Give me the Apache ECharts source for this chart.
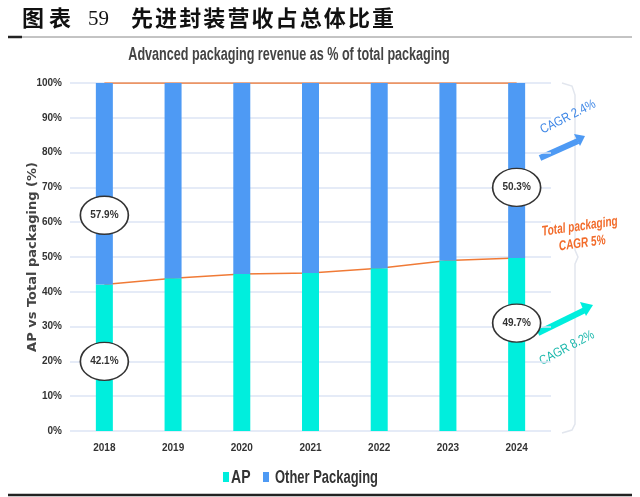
<!DOCTYPE html>
<html><head><meta charset="utf-8">
<script src="https://cdn.jsdelivr.net/npm/echarts@6/dist/echarts.min.js"></script>
<style>html,body{margin:0;padding:0;background:#fff}#c{width:640px;height:497px}</style>
</head><body><div id="c"></div>
<script>
const categories = ['2018','2019','2020','2021','2022','2023','2024'];
const apShare = [42.1, 43.9, 45.1, 45.4, 46.8, 49.0, 49.7];
const otherShare = [57.9, 56.1, 54.9, 54.6, 53.2, 51.0, 50.3];
const totalLine = [100, 100, 100, 100, 100, 100, 100];
const yTicks = [0, 10, 20, 30, 40, 50, 60, 70, 80, 90, 100];
const calloutOther = [['2018', 62, '57.9%'], ['2024', 70, '50.3%']];
const calloutAP = [['2018', 20, '42.1%'], ['2024', 31, '49.7%']];
const seriesNames = ['AP', 'Other Packaging'];
const headerTitle = ['图表', '59', '先进封装营收占总体比重'];
const chartTitle = 'Advanced packaging revenue as % of total packaging';

const F = "'Liberation Sans',Arial,sans-serif";
const teal = '#00EEDD', blue = '#4E9AF4', orange = '#F07A36';

const chart = echarts.init(document.getElementById('c'));
const ellipse = (arr) => arr.map(d => ({
  coord: [d[0], d[1]], value: d[2],
  symbol: 'circle', symbolSize: [48, 38],
  itemStyle: {color: '#fff', borderColor: '#333', borderWidth: 1.5},
  label: {show: true, formatter: d[2], color: '#333', fontFamily: F, fontSize: 10, fontWeight: 'bold'}
}));

// header characters laid out individually (wide spacing as in reference)
const headerGraphics = [];
const cjkFont = "bold 22px 'Noto Sans CJK SC'";
[...headerTitle[0]].forEach((ch, i) => headerGraphics.push({type: 'text', x: 22 + i * 27, y: 18,
  style: {text: ch, font: cjkFont, fill: '#111', verticalAlign: 'middle'}}));
headerGraphics.push({type: 'text', x: 88, y: 19, style: {text: headerTitle[1], font: "21px 'Liberation Serif',serif", fill: '#111', verticalAlign: 'middle'}});
[...headerTitle[2]].forEach((ch, i) => headerGraphics.push({type: 'text', x: 131 + i * 24.1, y: 18,
  style: {text: ch, font: cjkFont, fill: '#111', verticalAlign: 'middle'}}));

chart.setOption({
  animation: false,
  grid: {left: 70, right: 89, top: 83, bottom: 66, containLabel: false},
  legend: {show: false, data: seriesNames},
  xAxis: {type: 'category', data: categories,
    axisLine: {show: false}, axisTick: {show: false},
    axisLabel: {fontFamily: F, fontSize: 10, fontWeight: 'bold', color: '#333', margin: 12}},
  yAxis: {type: 'value', min: 0, max: 100, interval: 10,
    name: 'AP vs Total packaging (%)', nameLocation: 'middle', nameGap: 31, nameRotate: 90, nameMoveOverlap: false,
    nameTextStyle: {fontFamily: "'DejaVu Sans',sans-serif", fontSize: 13, fontWeight: 'bold', color: '#444'},
    axisLine: {show: false}, axisTick: {show: false},
    axisLabel: {fontFamily: F, fontSize: 10, fontWeight: 'bold', color: '#333', margin: 8,
      formatter: v => yTicks.includes(v) ? v + '%' : ''},
    splitLine: {lineStyle: {color: '#DCE5F5', width: 1.5}}},
  series: [
    {name: seriesNames[0], type: 'bar', stack: 's', data: apShare, barWidth: 17, itemStyle: {color: teal}, z: 3,
      markPoint: {data: ellipse(calloutAP), z: 10}},
    {name: seriesNames[1], type: 'bar', stack: 's', data: otherShare, barWidth: 17, itemStyle: {color: blue}, z: 3,
      markPoint: {data: ellipse(calloutOther), z: 10}},
    {name: 'apLine', type: 'line', data: apShare, symbol: 'none', z: 1, lineStyle: {color: orange, width: 1.5}},
    {name: 'totLine', type: 'line', data: totalLine, symbol: 'none', z: 1, lineStyle: {color: orange, width: 1.5}}
  ],
  graphic: headerGraphics.concat([
    {type: 'line', shape: {x1: 8, y1: 37, x2: 632, y2: 37}, style: {stroke: '#888', lineWidth: 1}},
    {type: 'line', shape: {x1: 8, y1: 37, x2: 22, y2: 37}, style: {stroke: '#222', lineWidth: 2.5}},
    {type: 'line', shape: {x1: 8, y1: 495, x2: 632, y2: 495}, style: {stroke: '#222', lineWidth: 2.5}},
    // chart title (condensed look)
    {type: 'text', x: 289, y: 55, scaleX: 0.7,
      style: {text: chartTitle, font: "bold 18px 'Liberation Sans',sans-serif", fill: '#444', align: 'center', verticalAlign: 'middle'}},
    // legend
    {type: 'rect', shape: {x: 223, y: 472, width: 6, height: 10}, style: {fill: teal}},
    {type: 'text', x: 231, y: 478, scaleX: 0.78, style: {text: seriesNames[0], font: "bold 18px 'Liberation Sans',sans-serif", fill: '#333', verticalAlign: 'middle'}},
    {type: 'rect', shape: {x: 263, y: 472, width: 6, height: 10}, style: {fill: blue}},
    {type: 'text', x: 275, y: 478, scaleX: 0.72, style: {text: seriesNames[1], font: "bold 18px 'Liberation Sans',sans-serif", fill: '#333', verticalAlign: 'middle'}},
    // bracket
    {type: 'polyline', shape: {points: [[562,83],[572,86],[575,95],[575,250],[578,257],[575,264],[575,424],[572,430],[562,433]]},
      style: {stroke: '#E2E6EE', lineWidth: 1.5, fill: null}},
    // blue arrow + text
    {type: 'polyline', shape: {points: [[540,158],[578,141]]}, style: {stroke: blue, lineWidth: 6}},
    {type: 'polygon', shape: {points: [[574,134],[585,136],[580,146]]}, style: {fill: blue}},
    {type: 'text', x: 568, y: 117, rotation: 27 * Math.PI / 180, scaleX: 0.85,
      style: {text: 'CAGR 2.4%', font: "13px 'Liberation Sans',sans-serif", fill: '#3D86E6', align: 'center', verticalAlign: 'middle'}},
    // orange text
    {type: 'text', x: 581, y: 235, rotation: 8 * Math.PI / 180, scaleX: 0.72,
      style: {text: 'Total packaging\nCAGR 5%', font: "italic bold 14px 'Liberation Sans',sans-serif", fill: '#F26B2A', align: 'center', verticalAlign: 'middle', lineHeight: 17}},
    // teal arrow + text
    {type: 'polyline', shape: {points: [[538,333],[585,310]]}, style: {stroke: teal, lineWidth: 6}},
    {type: 'polygon', shape: {points: [[580,302],[593,305],[586,316]]}, style: {fill: teal}},
    {type: 'text', x: 567, y: 348, rotation: 28 * Math.PI / 180, scaleX: 0.85,
      style: {text: 'CAGR 8.2%', font: "13px 'Liberation Sans',sans-serif", fill: '#1BB8AC', align: 'center', verticalAlign: 'middle'}}
  ])
});
</script></body></html>
